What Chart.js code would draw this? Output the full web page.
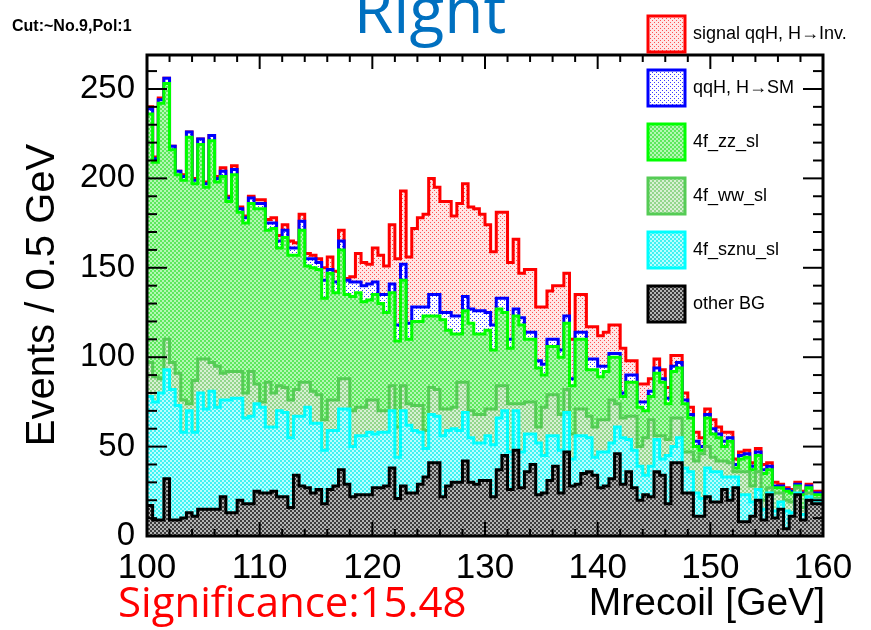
<!DOCTYPE html>
<html>
<head>
<meta charset="utf-8">
<script src="https://cdn.jsdelivr.net/npm/chart.js@4/dist/chart.umd.min.js"></script>
<style>
  html, body { margin: 0; padding: 0; background: #fff; }
  canvas { display: block; }
</style>
</head>
<body>
<canvas id="c" width="871" height="630"></canvas>
<script>
// Mrecoil histogram, 120 bins of 0.5 GeV between 100 and 160 GeV
const xMin = 100, xMax = 160, binWidth = 0.5;
const xTicks = [100, 110, 120, 130, 140, 150, 160];
const yTicks = [0, 50, 100, 150, 200, 250];
const yMax = 269;

// events per bin, one array per sample (bottom of the stack first)
const otherBG = [10,17,9,9,32,9,9,10,13,11, 15,15,15,15,22,13,13,20,18,18,
  25,24,24,25,22,22,16,34,28,27, 24,26,18,26,28,37,29,22,23,23,
  23,27,27,28,38,21,28,24,24,29, 33,41,41,22,28,30,30,42,30,29,
  31,31,22,37,45,26,48,27,36,40, 23,24,31,39,24,47,28,29,35,36,
  34,27,28,32,46,29,36,27,20,23, 22,36,34,18,41,41,24,24,11,11,
  22,19,19,26,20,27,8,8,11,20, 9,23,10,15,4,11,23,9,20,18];
const sznu = [68,61,66,71,61,73,64,48,57,47, 65,56,66,57,54,63,64,57,48,49,
  49,48,37,36,48,47,39,33,39,45, 39,37,30,33,31,34,42,28,33,33,
  35,30,31,30,32,23,42,38,35,29, 16,27,26,34,31,30,29,27,25,23,
  21,25,29,29,25,21,22,20,21,17, 29,21,25,17,24,22,15,27,21,19,
  10,20,19,20,15,26,18,21,19,11, 17,18,9,27,9,14,14,12,13,10,
  16,17,17,7,13,6,15,15,8,6, 6,1,4,4,10,2,1,3,2,2];
const wwSl = [19,19,14,8,17,15,18,18,4,29, 19,28,16,23,15,16,15,15,14,25,
  11,3,25,19,14,14,21,15,19,14, 18,16,17,17,17,17,17,20,16,16,
  18,19,12,12,14,17,14,12,14,15, 10,15,15,15,12,12,27,17,15,16,
  16,15,20,18,14,27,4,27,18,18, 9,27,23,23,20,13,14,15,15,12,
  17,18,18,24,13,11,13,19,11,21, 26,2,13,9,16,11,9,11,18,25,
  12,8,6,9,8,3,13,13,9,10, 5,3,10,5,6,6,3,4,2,1];
const zzSl = [138,139,120,154,143,119,111,123,149,110, 120,96,124,103,110,95,110,89,95,94,
  98,108,85,92,77,84,81,75,85,65, 69,70,68,71,60,72,47,64,64,59,
  56,59,60,55,52,48,59,36,47,47, 64,40,41,50,44,41,27,40,49,45,
  45,44,33,43,41,31,49,44,35,35, 33,18,27,27,32,37,27,39,39,26,
  32,24,27,24,26,12,19,19,22,15, 13,35,30,20,26,28,27,19,8,2,
  16,13,13,8,12,2,7,8,9,9, 15,10,3,3,5,5,1,7,3,2];
const qqhSM = [2,3,2,2,3,2,2,2,3,2, 3,2,3,2,3,2,3,2,3,3,
  3,3,4,3,4,4,4,4,5,4, 5,4,10,2,6,5,8,8,6,9,
  9,7,5,10,5,9,9,9,8,8, 5,12,12,4,10,10,10,8,8,13,
  13,10,14,6,8,5,4,4,4,4, 4,6,4,4,4,4,4,4,4,6,
  6,6,3,2,2,2,4,4,3,5, 3,3,2,3,3,3,2,2,3,2,
  2,3,2,3,2,2,2,2,2,2, 2,2,1,1,1,1,1,1,1,1];
const signalInv = [0,1,1,1,0,0,0,1,0,1, 0,1,0,1,2,1,2,1,1,1,
  2,2,2,3,3,3,4,3,4,3, 2,2,7,7,6,6,1,3,16,13,
  11,19,22,16,33,37,41,37,44,50, 52,65,60,62,62,56,63,63,57,57,
  54,49,41,48,48,43,39,25,35,35, 30,32,27,30,36,24,22,21,21,18,
  18,17,19,16,16,25,8,8,10,10, 7,5,5,6,6,4,4,4,5,5,
  3,5,4,5,3,3,2,2,2,2, 3,2,2,1,1,1,1,1,1,1];

const font = "'Liberation Sans', Arial, sans-serif";

// small repeating tiles that mimic ROOT fill styles
function hatch(bg, fg, cells) {
  const c = document.createElement('canvas');
  c.width = 4; c.height = 4;
  const g = c.getContext('2d');
  g.fillStyle = bg; g.fillRect(0, 0, 4, 4);
  g.fillStyle = fg;
  cells.forEach(([x, y, w, h]) => g.fillRect(x, y, w, h));
  return g.createPattern(c, 'repeat');
}
const checker = [[0, 0, 2, 2], [2, 2, 2, 2]];
const dots = [[0, 0, 1, 1], [2, 2, 1, 1]];

// bin edges -> step points, last value repeated at the upper edge
function toSteps(values) {
  const pts = values.map((v, i) => ({ x: xMin + i * binWidth, y: v }));
  pts.push({ x: xMax, y: values[values.length - 1] });
  return pts;
}

const samples = [
  { label: 'other BG', values: otherBG, line: '#000000', fill: hatch('#b4b4b4', '#3c3c3c', checker) },
  { label: '4f_sznu_sl', values: sznu, line: '#00ffff', fill: hatch('#b8ffff', '#3ff2f2', checker) },
  { label: '4f_ww_sl', values: wwSl, line: '#55cc55', fill: hatch('#d8f0d4', '#92d68c', checker) },
  { label: '4f_zz_sl', values: zzSl, line: '#00ff00', fill: hatch('#b4f8b4', '#5de85d', checker) },
  { label: 'qqH, H\u2192SM', values: qqhSM, line: '#0000ff', fill: hatch('#ffffff', '#3c3cff', dots) },
  { label: 'signal qqH, H\u2192Inv.', values: signalInv, line: '#ff0000', fill: hatch('#ffe6e6', '#ff5050', dots) }
];

const datasets = samples.map((s, i) => ({
  label: s.label,
  data: toSteps(s.values),
  borderColor: s.line,
  backgroundColor: s.fill,
  borderWidth: 3,
  stepped: 'after',
  pointRadius: 0,
  fill: i === 0 ? 'origin' : '-1'
}));

// frame, inward ticks, legend and free text in the ROOT style
const rootDecor = {
  id: 'rootDecor',
  afterDraw(chart) {
    const { ctx, chartArea: a, scales: { x, y } } = chart;
    ctx.save();
    ctx.strokeStyle = '#000';
    const seg = (x1, y1, x2, y2) => { ctx.beginPath(); ctx.moveTo(x1, y1); ctx.lineTo(x2, y2); ctx.stroke(); };

    ctx.lineWidth = 2;
    for (let v = xMin; v <= xMax; v += 2) {
      const px = x.getPixelForValue(v);
      const len = v % 10 === 0 ? 14 : 7;
      seg(px, a.bottom, px, a.bottom - len);
      seg(px, a.top, px, a.top + len);
    }
    for (let v = 0; v <= yMax; v += 10) {
      const py = y.getPixelForValue(v);
      const len = v % 50 === 0 ? 20 : 10;
      seg(a.left, py, a.left + len, py);
      seg(a.right, py, a.right - len, py);
    }
    ctx.lineWidth = 3;
    ctx.strokeRect(a.left, a.top, a.right - a.left, a.bottom - a.top);

    // legend, top entry is the last dataset
    const entries = chart.data.datasets.slice().reverse();
    entries.forEach((ds, k) => {
      const top = 16 + k * 54;
      ctx.fillStyle = ds.backgroundColor;
      ctx.fillRect(648, top, 37, 36);
      ctx.strokeStyle = ds.borderColor;
      ctx.lineWidth = 3;
      ctx.strokeRect(648, top, 37, 36);
      ctx.fillStyle = '#000';
      ctx.font = '18px ' + font;
      ctx.textAlign = 'left';
      ctx.textBaseline = 'middle';
      ctx.fillText(ds.label, 693, top + 18);
    });

    ctx.textBaseline = 'alphabetic';
    ctx.fillStyle = '#000';
    ctx.font = 'bold 16px ' + font;
    ctx.fillText('Cut:~No.9,Pol:1', 12, 31);

    ctx.fillStyle = '#0070c0';
    ctx.font = "64px 'Open Sans', sans-serif";
    ctx.textAlign = 'center';
    ctx.fillText('Right', 430, 33);

    ctx.fillStyle = '#ff0000';
    ctx.font = "42px 'Open Sans', sans-serif";
    ctx.textAlign = 'left';
    ctx.fillText('Significance:15.48', 118, 617);

    ctx.fillStyle = '#000';
    ctx.font = '39px ' + font;
    ctx.textAlign = 'right';
    ctx.fillText('Mrecoil [GeV]', 825, 615);

    ctx.translate(54, 295);
    ctx.rotate(-Math.PI / 2);
    ctx.textAlign = 'center';
    ctx.font = '40px ' + font;
    ctx.fillText('Events / 0.5 GeV', 0, 0);
    ctx.restore();
  }
};

new Chart(document.getElementById('c'), {
  type: 'line',
  data: { datasets },
  options: {
    responsive: false,
    animation: false,
    layout: { padding: { top: 55, right: 48, left: 0, bottom: 0 } },
    plugins: { legend: { display: false }, tooltip: { enabled: false } },
    scales: {
      x: {
        type: 'linear', min: xMin, max: xMax,
        grid: { display: false, drawTicks: false },
        border: { display: false },
        afterBuildTicks: s => { s.ticks = xTicks.map(v => ({ value: v })); },
        ticks: { font: { family: font, size: 35 }, color: '#000', padding: 11, maxRotation: 0, autoSkip: false },
        afterFit: s => { s.height = 94; }
      },
      y: {
        stacked: true, min: 0, max: yMax,
        grid: { display: false, drawTicks: false },
        border: { display: false },
        afterBuildTicks: s => { s.ticks = yTicks.map(v => ({ value: v })); },
        ticks: { font: { family: font, size: 33 }, color: '#000', padding: 12, autoSkip: false },
        afterFit: s => { s.width = 147; }
      }
    }
  },
  plugins: [rootDecor]
});
</script>
</body>
</html>
